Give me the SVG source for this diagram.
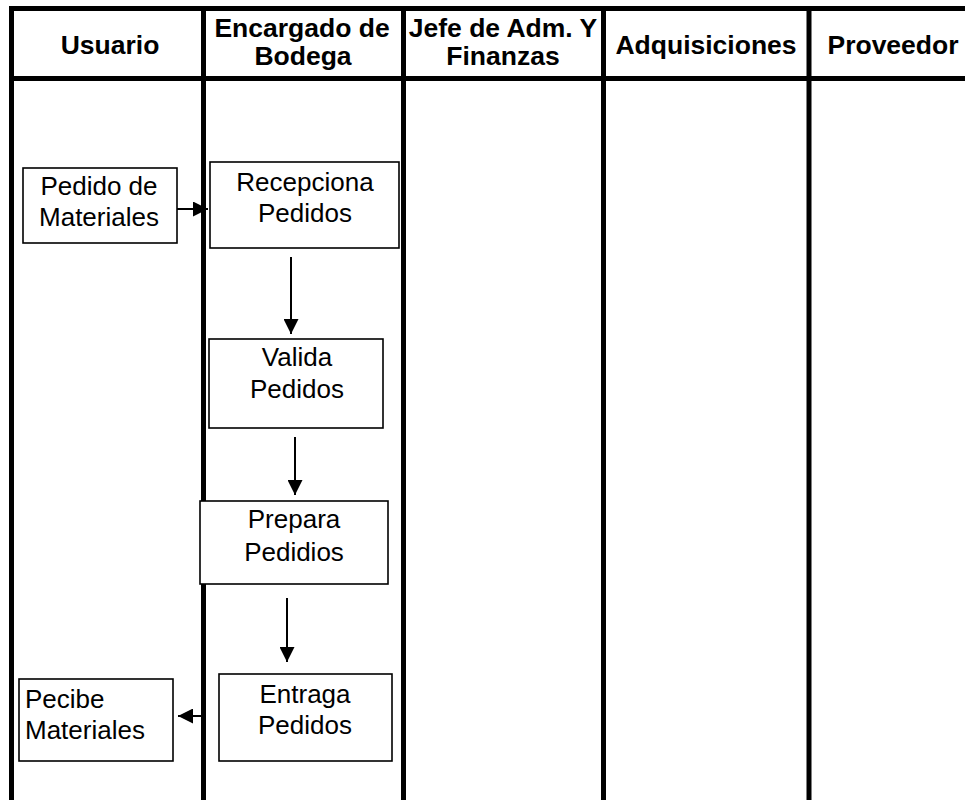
<svg xmlns="http://www.w3.org/2000/svg" width="965" height="800" viewBox="0 0 965 800">
<defs>
<marker id="ah" viewBox="0 0 10 10" refX="10" refY="5" markerWidth="7.5" markerHeight="7.5" markerUnits="strokeWidth" orient="auto">
<path d="M0,0 L10,5 L0,10 Z" fill="#000"/>
</marker>
<style>
.lane{stroke:#000;stroke-width:5;fill:none}
.hd{font-family:"Liberation Sans",Arial,sans-serif;font-weight:bold;font-size:26.5px;fill:#000;text-anchor:middle}
.box{fill:#fff;stroke:#000;stroke-width:1.6}
.t{font-family:"Liberation Sans",Arial,sans-serif;font-size:26px;fill:#000;text-anchor:middle}
.tl{font-family:"Liberation Sans",Arial,sans-serif;font-size:26px;fill:#000}
.con{stroke:#000;stroke-width:2;fill:none;marker-end:url(#ah)}
</style>
</defs>
<rect x="0" y="0" width="965" height="800" fill="#fff"/>
<g id="lanes">
<line class="lane" x1="9" y1="8.5" x2="965" y2="8.5"/>
<line class="lane" x1="9" y1="78.5" x2="965" y2="78.5"/>
<line class="lane" x1="11.5" y1="6" x2="11.5" y2="800"/>
<line class="lane" x1="203.5" y1="6" x2="203.5" y2="800"/>
<line class="lane" x1="403.5" y1="6" x2="403.5" y2="800"/>
<line class="lane" x1="603.5" y1="6" x2="603.5" y2="800"/>
<line class="lane" x1="809" y1="6" x2="809" y2="800"/>
</g>
<g id="headers">
<text class="hd" x="110" y="54">Usuario</text>
<text class="hd" x="302" y="37">Encargado de</text>
<text class="hd" x="303" y="65">Bodega</text>
<text class="hd" x="503" y="37">Jefe de Adm. Y</text>
<text class="hd" x="503" y="65">Finanzas</text>
<text class="hd" x="706" y="54">Adquisiciones</text>
<text class="hd" x="893" y="54">Proveedor</text>
</g>
<g id="n1">
<rect class="box" x="23" y="168" width="154" height="75"/>
<text class="t" x="99" y="195">Pedido de</text>
<text class="t" x="99" y="226">Materiales</text>
</g>
<g id="n2">
<rect class="box" x="210" y="162" width="189" height="86"/>
<text class="t" x="305" y="191">Recepciona</text>
<text class="t" x="305" y="222">Pedidos</text>
</g>
<g id="n3">
<rect class="box" x="209" y="339" width="174" height="89"/>
<text class="t" x="297" y="366">Valida</text>
<text class="t" x="297" y="398">Pedidos</text>
</g>
<g id="n4">
<rect class="box" x="200" y="501" width="188" height="83"/>
<text class="t" x="294" y="528">Prepara</text>
<text class="t" x="294" y="561">Pedidios</text>
</g>
<g id="n5">
<rect class="box" x="219" y="674" width="173" height="87"/>
<text class="t" x="305" y="703">Entraga</text>
<text class="t" x="305" y="734">Pedidos</text>
</g>
<g id="n6">
<rect class="box" x="19" y="679" width="154" height="82"/>
<text class="tl" x="25" y="708">Pecibe</text>
<text class="tl" x="25" y="739">Materiales</text>
</g>
<g id="connectors">
<line class="con" x1="177" y1="209" x2="208" y2="209"/>
<line class="con" x1="291" y1="257" x2="291" y2="334"/>
<line class="con" x1="295" y1="437" x2="295" y2="495"/>
<line class="con" x1="287" y1="598" x2="287" y2="662"/>
<line class="con" x1="202" y1="716" x2="178" y2="716"/>
</g>
</svg>
